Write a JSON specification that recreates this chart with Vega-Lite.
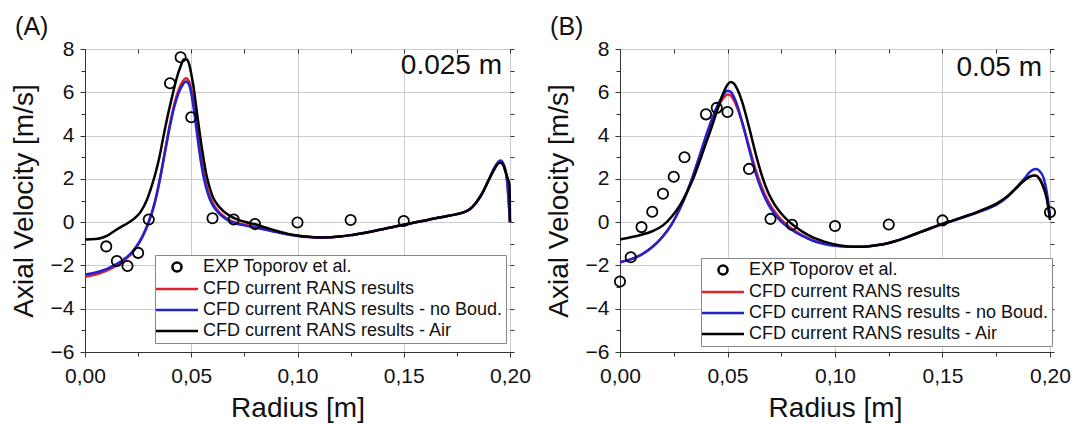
{
  "$schema": "https://vega.github.io/schema/vega-lite/v6.json",
  "padding": {"left": 9, "top": 14, "right": 0, "bottom": 0},
  "spacing": 13,
  "config": {
    "font": "Liberation Sans",
    "view": {"stroke": "#333333", "strokeWidth": 1},
    "axis": {
      "labelFont": "Liberation Sans", "labelFontSize": 21, "labelColor": "#111111", "labelFlush": false, "labelOverlap": false,
      "titleFont": "Liberation Sans", "titleFontSize": 28, "titleFontWeight": "normal", "titleColor": "#111111",
      "domainColor": "#333333", "tickColor": "#333333", "tickSize": 5,
      "gridColor": "#cccccc", "gridWidth": 1
    },
    "axisX": {"labelPadding": 8, "titlePadding": 8},
    "axisY": {"labelPadding": 6, "titlePadding": 12},
    "title": {"font": "Liberation Sans", "fontSize": 25, "fontWeight": "normal", "anchor": "start", "frame": "bounds", "offset": 1, "color": "#111111", "dx": 5, "dy": 3},
    "legend": {
      "title": null, "labelFont": "Liberation Sans", "labelFontSize": 18, "labelColor": "#111111",
      "strokeColor": "#888888", "fillColor": "#ffffff", "padding": 3, "rowPadding": 3,
      "symbolSize": 196, "symbolStrokeWidth": 2.5, "symbolOffset": 10, "labelOffset": 17,
      "labelLimit": 400
    }
  },
  "datasets": {
    "lineA": [
      {"r":0.000,"v":-2.52,"s":"CFD current RANS results"},{"r":0.005,"v":-2.42,"s":"CFD current RANS results"},{"r":0.010,"v":-2.25,"s":"CFD current RANS results"},{"r":0.015,"v":-2.00,"s":"CFD current RANS results"},{"r":0.018,"v":-1.80,"s":"CFD current RANS results"},{"r":0.021,"v":-1.55,"s":"CFD current RANS results"},{"r":0.024,"v":-1.20,"s":"CFD current RANS results"},{"r":0.027,"v":-0.70,"s":"CFD current RANS results"},{"r":0.030,"v":0.00,"s":"CFD current RANS results"},{"r":0.032,"v":0.60,"s":"CFD current RANS results"},{"r":0.034,"v":1.40,"s":"CFD current RANS results"},{"r":0.036,"v":2.40,"s":"CFD current RANS results"},{"r":0.038,"v":3.50,"s":"CFD current RANS results"},{"r":0.040,"v":4.55,"s":"CFD current RANS results"},{"r":0.042,"v":5.45,"s":"CFD current RANS results"},{"r":0.044,"v":6.10,"s":"CFD current RANS results"},{"r":0.046,"v":6.50,"s":"CFD current RANS results"},{"r":0.0475,"v":6.65,"s":"CFD current RANS results"},{"r":0.049,"v":6.50,"s":"CFD current RANS results"},{"r":0.050,"v":6.15,"s":"CFD current RANS results"},{"r":0.051,"v":5.60,"s":"CFD current RANS results"},{"r":0.0525,"v":4.55,"s":"CFD current RANS results"},{"r":0.054,"v":3.40,"s":"CFD current RANS results"},{"r":0.0555,"v":2.45,"s":"CFD current RANS results"},{"r":0.057,"v":1.75,"s":"CFD current RANS results"},{"r":0.0585,"v":1.25,"s":"CFD current RANS results"},{"r":0.060,"v":0.90,"s":"CFD current RANS results"},{"r":0.062,"v":0.60,"s":"CFD current RANS results"},{"r":0.065,"v":0.30,"s":"CFD current RANS results"},{"r":0.068,"v":0.10,"s":"CFD current RANS results"},{"r":0.071,"v":-0.02,"s":"CFD current RANS results"},{"r":0.075,"v":-0.12,"s":"CFD current RANS results"},{"r":0.080,"v":-0.22,"s":"CFD current RANS results"},{"r":0.085,"v":-0.33,"s":"CFD current RANS results"},{"r":0.090,"v":-0.45,"s":"CFD current RANS results"},{"r":0.095,"v":-0.55,"s":"CFD current RANS results"},{"r":0.100,"v":-0.63,"s":"CFD current RANS results"},{"r":0.105,"v":-0.68,"s":"CFD current RANS results"},{"r":0.110,"v":-0.71,"s":"CFD current RANS results"},{"r":0.115,"v":-0.70,"s":"CFD current RANS results"},{"r":0.120,"v":-0.66,"s":"CFD current RANS results"},{"r":0.125,"v":-0.60,"s":"CFD current RANS results"},{"r":0.130,"v":-0.52,"s":"CFD current RANS results"},{"r":0.135,"v":-0.43,"s":"CFD current RANS results"},{"r":0.140,"v":-0.33,"s":"CFD current RANS results"},{"r":0.145,"v":-0.22,"s":"CFD current RANS results"},{"r":0.150,"v":-0.12,"s":"CFD current RANS results"},{"r":0.155,"v":-0.02,"s":"CFD current RANS results"},{"r":0.160,"v":0.08,"s":"CFD current RANS results"},{"r":0.165,"v":0.18,"s":"CFD current RANS results"},{"r":0.170,"v":0.27,"s":"CFD current RANS results"},{"r":0.175,"v":0.37,"s":"CFD current RANS results"},{"r":0.178,"v":0.45,"s":"CFD current RANS results"},{"r":0.181,"v":0.60,"s":"CFD current RANS results"},{"r":0.184,"v":0.90,"s":"CFD current RANS results"},{"r":0.187,"v":1.35,"s":"CFD current RANS results"},{"r":0.190,"v":1.95,"s":"CFD current RANS results"},{"r":0.193,"v":2.55,"s":"CFD current RANS results"},{"r":0.1955,"v":2.80,"s":"CFD current RANS results"},{"r":0.197,"v":2.60,"s":"CFD current RANS results"},{"r":0.1985,"v":2.00,"s":"CFD current RANS results"},{"r":0.200,"v":0.00,"s":"CFD current RANS results"},

      {"r":0.000,"v":-2.42,"s":"CFD current RANS results - no Boud."},{"r":0.005,"v":-2.33,"s":"CFD current RANS results - no Boud."},{"r":0.010,"v":-2.17,"s":"CFD current RANS results - no Boud."},{"r":0.015,"v":-1.93,"s":"CFD current RANS results - no Boud."},{"r":0.018,"v":-1.74,"s":"CFD current RANS results - no Boud."},{"r":0.021,"v":-1.50,"s":"CFD current RANS results - no Boud."},{"r":0.024,"v":-1.15,"s":"CFD current RANS results - no Boud."},{"r":0.027,"v":-0.66,"s":"CFD current RANS results - no Boud."},{"r":0.030,"v":0.02,"s":"CFD current RANS results - no Boud."},{"r":0.032,"v":0.60,"s":"CFD current RANS results - no Boud."},{"r":0.034,"v":1.38,"s":"CFD current RANS results - no Boud."},{"r":0.036,"v":2.35,"s":"CFD current RANS results - no Boud."},{"r":0.038,"v":3.42,"s":"CFD current RANS results - no Boud."},{"r":0.040,"v":4.45,"s":"CFD current RANS results - no Boud."},{"r":0.042,"v":5.32,"s":"CFD current RANS results - no Boud."},{"r":0.044,"v":5.95,"s":"CFD current RANS results - no Boud."},{"r":0.046,"v":6.35,"s":"CFD current RANS results - no Boud."},{"r":0.0475,"v":6.50,"s":"CFD current RANS results - no Boud."},{"r":0.049,"v":6.35,"s":"CFD current RANS results - no Boud."},{"r":0.050,"v":5.95,"s":"CFD current RANS results - no Boud."},{"r":0.051,"v":5.35,"s":"CFD current RANS results - no Boud."},{"r":0.0525,"v":4.25,"s":"CFD current RANS results - no Boud."},{"r":0.054,"v":3.15,"s":"CFD current RANS results - no Boud."},{"r":0.0555,"v":2.25,"s":"CFD current RANS results - no Boud."},{"r":0.057,"v":1.60,"s":"CFD current RANS results - no Boud."},{"r":0.0585,"v":1.12,"s":"CFD current RANS results - no Boud."},{"r":0.060,"v":0.80,"s":"CFD current RANS results - no Boud."},{"r":0.062,"v":0.52,"s":"CFD current RANS results - no Boud."},{"r":0.065,"v":0.24,"s":"CFD current RANS results - no Boud."},{"r":0.068,"v":0.05,"s":"CFD current RANS results - no Boud."},{"r":0.071,"v":-0.06,"s":"CFD current RANS results - no Boud."},{"r":0.075,"v":-0.15,"s":"CFD current RANS results - no Boud."},{"r":0.080,"v":-0.24,"s":"CFD current RANS results - no Boud."},{"r":0.085,"v":-0.35,"s":"CFD current RANS results - no Boud."},{"r":0.090,"v":-0.46,"s":"CFD current RANS results - no Boud."},{"r":0.095,"v":-0.56,"s":"CFD current RANS results - no Boud."},{"r":0.100,"v":-0.64,"s":"CFD current RANS results - no Boud."},{"r":0.105,"v":-0.69,"s":"CFD current RANS results - no Boud."},{"r":0.110,"v":-0.71,"s":"CFD current RANS results - no Boud."},{"r":0.115,"v":-0.70,"s":"CFD current RANS results - no Boud."},{"r":0.120,"v":-0.66,"s":"CFD current RANS results - no Boud."},{"r":0.125,"v":-0.60,"s":"CFD current RANS results - no Boud."},{"r":0.130,"v":-0.52,"s":"CFD current RANS results - no Boud."},{"r":0.135,"v":-0.43,"s":"CFD current RANS results - no Boud."},{"r":0.140,"v":-0.33,"s":"CFD current RANS results - no Boud."},{"r":0.145,"v":-0.22,"s":"CFD current RANS results - no Boud."},{"r":0.150,"v":-0.12,"s":"CFD current RANS results - no Boud."},{"r":0.155,"v":-0.02,"s":"CFD current RANS results - no Boud."},{"r":0.160,"v":0.08,"s":"CFD current RANS results - no Boud."},{"r":0.165,"v":0.18,"s":"CFD current RANS results - no Boud."},{"r":0.170,"v":0.27,"s":"CFD current RANS results - no Boud."},{"r":0.175,"v":0.37,"s":"CFD current RANS results - no Boud."},{"r":0.178,"v":0.45,"s":"CFD current RANS results - no Boud."},{"r":0.181,"v":0.58,"s":"CFD current RANS results - no Boud."},{"r":0.184,"v":0.88,"s":"CFD current RANS results - no Boud."},{"r":0.187,"v":1.33,"s":"CFD current RANS results - no Boud."},{"r":0.190,"v":1.95,"s":"CFD current RANS results - no Boud."},{"r":0.193,"v":2.58,"s":"CFD current RANS results - no Boud."},{"r":0.1955,"v":2.85,"s":"CFD current RANS results - no Boud."},{"r":0.197,"v":2.68,"s":"CFD current RANS results - no Boud."},{"r":0.1985,"v":2.05,"s":"CFD current RANS results - no Boud."},{"r":0.200,"v":0.00,"s":"CFD current RANS results - no Boud."},

      {"r":0.000,"v":-0.80,"s":"CFD current RANS results - Air"},{"r":0.005,"v":-0.78,"s":"CFD current RANS results - Air"},{"r":0.008,"v":-0.72,"s":"CFD current RANS results - Air"},{"r":0.011,"v":-0.60,"s":"CFD current RANS results - Air"},{"r":0.014,"v":-0.40,"s":"CFD current RANS results - Air"},{"r":0.017,"v":-0.22,"s":"CFD current RANS results - Air"},{"r":0.020,"v":-0.05,"s":"CFD current RANS results - Air"},{"r":0.023,"v":0.15,"s":"CFD current RANS results - Air"},{"r":0.026,"v":0.45,"s":"CFD current RANS results - Air"},{"r":0.029,"v":1.00,"s":"CFD current RANS results - Air"},{"r":0.031,"v":1.55,"s":"CFD current RANS results - Air"},{"r":0.033,"v":2.20,"s":"CFD current RANS results - Air"},{"r":0.035,"v":3.00,"s":"CFD current RANS results - Air"},{"r":0.037,"v":4.00,"s":"CFD current RANS results - Air"},{"r":0.039,"v":4.95,"s":"CFD current RANS results - Air"},{"r":0.041,"v":5.80,"s":"CFD current RANS results - Air"},{"r":0.043,"v":6.60,"s":"CFD current RANS results - Air"},{"r":0.045,"v":7.20,"s":"CFD current RANS results - Air"},{"r":0.0465,"v":7.52,"s":"CFD current RANS results - Air"},{"r":0.048,"v":7.52,"s":"CFD current RANS results - Air"},{"r":0.049,"v":7.30,"s":"CFD current RANS results - Air"},{"r":0.050,"v":6.85,"s":"CFD current RANS results - Air"},{"r":0.051,"v":6.30,"s":"CFD current RANS results - Air"},{"r":0.0525,"v":5.20,"s":"CFD current RANS results - Air"},{"r":0.054,"v":4.10,"s":"CFD current RANS results - Air"},{"r":0.0555,"v":3.10,"s":"CFD current RANS results - Air"},{"r":0.057,"v":2.25,"s":"CFD current RANS results - Air"},{"r":0.0585,"v":1.65,"s":"CFD current RANS results - Air"},{"r":0.060,"v":1.20,"s":"CFD current RANS results - Air"},{"r":0.062,"v":0.85,"s":"CFD current RANS results - Air"},{"r":0.065,"v":0.52,"s":"CFD current RANS results - Air"},{"r":0.068,"v":0.30,"s":"CFD current RANS results - Air"},{"r":0.071,"v":0.15,"s":"CFD current RANS results - Air"},{"r":0.075,"v":0.02,"s":"CFD current RANS results - Air"},{"r":0.080,"v":-0.10,"s":"CFD current RANS results - Air"},{"r":0.085,"v":-0.25,"s":"CFD current RANS results - Air"},{"r":0.090,"v":-0.40,"s":"CFD current RANS results - Air"},{"r":0.095,"v":-0.53,"s":"CFD current RANS results - Air"},{"r":0.100,"v":-0.62,"s":"CFD current RANS results - Air"},{"r":0.105,"v":-0.68,"s":"CFD current RANS results - Air"},{"r":0.110,"v":-0.71,"s":"CFD current RANS results - Air"},{"r":0.115,"v":-0.70,"s":"CFD current RANS results - Air"},{"r":0.120,"v":-0.66,"s":"CFD current RANS results - Air"},{"r":0.125,"v":-0.60,"s":"CFD current RANS results - Air"},{"r":0.130,"v":-0.52,"s":"CFD current RANS results - Air"},{"r":0.135,"v":-0.43,"s":"CFD current RANS results - Air"},{"r":0.140,"v":-0.33,"s":"CFD current RANS results - Air"},{"r":0.145,"v":-0.22,"s":"CFD current RANS results - Air"},{"r":0.150,"v":-0.12,"s":"CFD current RANS results - Air"},{"r":0.155,"v":-0.02,"s":"CFD current RANS results - Air"},{"r":0.160,"v":0.08,"s":"CFD current RANS results - Air"},{"r":0.165,"v":0.18,"s":"CFD current RANS results - Air"},{"r":0.170,"v":0.27,"s":"CFD current RANS results - Air"},{"r":0.175,"v":0.37,"s":"CFD current RANS results - Air"},{"r":0.178,"v":0.45,"s":"CFD current RANS results - Air"},{"r":0.181,"v":0.60,"s":"CFD current RANS results - Air"},{"r":0.184,"v":0.90,"s":"CFD current RANS results - Air"},{"r":0.187,"v":1.35,"s":"CFD current RANS results - Air"},{"r":0.190,"v":1.95,"s":"CFD current RANS results - Air"},{"r":0.193,"v":2.50,"s":"CFD current RANS results - Air"},{"r":0.195,"v":2.75,"s":"CFD current RANS results - Air"},{"r":0.1965,"v":2.70,"s":"CFD current RANS results - Air"},{"r":0.198,"v":2.30,"s":"CFD current RANS results - Air"},{"r":0.199,"v":2.00,"s":"CFD current RANS results - Air"},{"r":0.1998,"v":1.70,"s":"CFD current RANS results - Air"},{"r":0.200,"v":0.00,"s":"CFD current RANS results - Air"}
    ],
    "expA": [
      {"r":0.010,"v":-1.12,"s":"EXP Toporov et al."},{"r":0.015,"v":-1.80,"s":"EXP Toporov et al."},{"r":0.020,"v":-2.03,"s":"EXP Toporov et al."},{"r":0.025,"v":-1.42,"s":"EXP Toporov et al."},{"r":0.030,"v":0.12,"s":"EXP Toporov et al."},{"r":0.040,"v":6.42,"s":"EXP Toporov et al."},{"r":0.045,"v":7.62,"s":"EXP Toporov et al."},{"r":0.050,"v":4.85,"s":"EXP Toporov et al."},{"r":0.060,"v":0.18,"s":"EXP Toporov et al."},{"r":0.070,"v":0.12,"s":"EXP Toporov et al."},{"r":0.080,"v":-0.09,"s":"EXP Toporov et al."},{"r":0.100,"v":-0.02,"s":"EXP Toporov et al."},{"r":0.125,"v":0.10,"s":"EXP Toporov et al."},{"r":0.150,"v":0.05,"s":"EXP Toporov et al."}
    ],
    "lineB": [
      {"r":0.000,"v":-1.85,"s":"CFD current RANS results"},{"r":0.005,"v":-1.72,"s":"CFD current RANS results"},{"r":0.010,"v":-1.50,"s":"CFD current RANS results"},{"r":0.015,"v":-1.15,"s":"CFD current RANS results"},{"r":0.020,"v":-0.65,"s":"CFD current RANS results"},{"r":0.024,"v":-0.10,"s":"CFD current RANS results"},{"r":0.028,"v":0.65,"s":"CFD current RANS results"},{"r":0.031,"v":1.35,"s":"CFD current RANS results"},{"r":0.034,"v":2.15,"s":"CFD current RANS results"},{"r":0.037,"v":3.05,"s":"CFD current RANS results"},{"r":0.040,"v":3.95,"s":"CFD current RANS results"},{"r":0.043,"v":4.75,"s":"CFD current RANS results"},{"r":0.046,"v":5.40,"s":"CFD current RANS results"},{"r":0.048,"v":5.72,"s":"CFD current RANS results"},{"r":0.050,"v":5.90,"s":"CFD current RANS results"},{"r":0.0515,"v":5.85,"s":"CFD current RANS results"},{"r":0.053,"v":5.62,"s":"CFD current RANS results"},{"r":0.055,"v":5.15,"s":"CFD current RANS results"},{"r":0.057,"v":4.55,"s":"CFD current RANS results"},{"r":0.060,"v":3.50,"s":"CFD current RANS results"},{"r":0.063,"v":2.45,"s":"CFD current RANS results"},{"r":0.066,"v":1.60,"s":"CFD current RANS results"},{"r":0.069,"v":0.95,"s":"CFD current RANS results"},{"r":0.072,"v":0.48,"s":"CFD current RANS results"},{"r":0.075,"v":0.12,"s":"CFD current RANS results"},{"r":0.078,"v":-0.15,"s":"CFD current RANS results"},{"r":0.081,"v":-0.38,"s":"CFD current RANS results"},{"r":0.085,"v":-0.62,"s":"CFD current RANS results"},{"r":0.090,"v":-0.85,"s":"CFD current RANS results"},{"r":0.095,"v":-1.00,"s":"CFD current RANS results"},{"r":0.100,"v":-1.08,"s":"CFD current RANS results"},{"r":0.105,"v":-1.12,"s":"CFD current RANS results"},{"r":0.110,"v":-1.14,"s":"CFD current RANS results"},{"r":0.115,"v":-1.12,"s":"CFD current RANS results"},{"r":0.120,"v":-1.06,"s":"CFD current RANS results"},{"r":0.125,"v":-0.96,"s":"CFD current RANS results"},{"r":0.130,"v":-0.82,"s":"CFD current RANS results"},{"r":0.135,"v":-0.64,"s":"CFD current RANS results"},{"r":0.140,"v":-0.45,"s":"CFD current RANS results"},{"r":0.145,"v":-0.26,"s":"CFD current RANS results"},{"r":0.150,"v":-0.08,"s":"CFD current RANS results"},{"r":0.155,"v":0.08,"s":"CFD current RANS results"},{"r":0.160,"v":0.25,"s":"CFD current RANS results"},{"r":0.165,"v":0.42,"s":"CFD current RANS results"},{"r":0.170,"v":0.62,"s":"CFD current RANS results"},{"r":0.175,"v":0.85,"s":"CFD current RANS results"},{"r":0.180,"v":1.18,"s":"CFD current RANS results"},{"r":0.184,"v":1.55,"s":"CFD current RANS results"},{"r":0.188,"v":1.92,"s":"CFD current RANS results"},{"r":0.191,"v":2.12,"s":"CFD current RANS results"},{"r":0.193,"v":2.15,"s":"CFD current RANS results"},{"r":0.195,"v":2.02,"s":"CFD current RANS results"},{"r":0.197,"v":1.60,"s":"CFD current RANS results"},{"r":0.1985,"v":1.10,"s":"CFD current RANS results"},{"r":0.200,"v":0.20,"s":"CFD current RANS results"},

      {"r":0.000,"v":-1.85,"s":"CFD current RANS results - no Boud."},{"r":0.005,"v":-1.72,"s":"CFD current RANS results - no Boud."},{"r":0.010,"v":-1.50,"s":"CFD current RANS results - no Boud."},{"r":0.015,"v":-1.15,"s":"CFD current RANS results - no Boud."},{"r":0.020,"v":-0.65,"s":"CFD current RANS results - no Boud."},{"r":0.024,"v":-0.10,"s":"CFD current RANS results - no Boud."},{"r":0.028,"v":0.65,"s":"CFD current RANS results - no Boud."},{"r":0.031,"v":1.35,"s":"CFD current RANS results - no Boud."},{"r":0.034,"v":2.15,"s":"CFD current RANS results - no Boud."},{"r":0.037,"v":3.05,"s":"CFD current RANS results - no Boud."},{"r":0.040,"v":3.98,"s":"CFD current RANS results - no Boud."},{"r":0.043,"v":4.82,"s":"CFD current RANS results - no Boud."},{"r":0.046,"v":5.52,"s":"CFD current RANS results - no Boud."},{"r":0.048,"v":5.88,"s":"CFD current RANS results - no Boud."},{"r":0.050,"v":6.07,"s":"CFD current RANS results - no Boud."},{"r":0.0515,"v":6.02,"s":"CFD current RANS results - no Boud."},{"r":0.053,"v":5.78,"s":"CFD current RANS results - no Boud."},{"r":0.055,"v":5.25,"s":"CFD current RANS results - no Boud."},{"r":0.057,"v":4.55,"s":"CFD current RANS results - no Boud."},{"r":0.060,"v":3.40,"s":"CFD current RANS results - no Boud."},{"r":0.063,"v":2.30,"s":"CFD current RANS results - no Boud."},{"r":0.066,"v":1.45,"s":"CFD current RANS results - no Boud."},{"r":0.069,"v":0.82,"s":"CFD current RANS results - no Boud."},{"r":0.072,"v":0.36,"s":"CFD current RANS results - no Boud."},{"r":0.075,"v":0.02,"s":"CFD current RANS results - no Boud."},{"r":0.078,"v":-0.23,"s":"CFD current RANS results - no Boud."},{"r":0.081,"v":-0.43,"s":"CFD current RANS results - no Boud."},{"r":0.085,"v":-0.65,"s":"CFD current RANS results - no Boud."},{"r":0.090,"v":-0.87,"s":"CFD current RANS results - no Boud."},{"r":0.095,"v":-1.01,"s":"CFD current RANS results - no Boud."},{"r":0.100,"v":-1.09,"s":"CFD current RANS results - no Boud."},{"r":0.105,"v":-1.13,"s":"CFD current RANS results - no Boud."},{"r":0.110,"v":-1.14,"s":"CFD current RANS results - no Boud."},{"r":0.115,"v":-1.12,"s":"CFD current RANS results - no Boud."},{"r":0.120,"v":-1.06,"s":"CFD current RANS results - no Boud."},{"r":0.125,"v":-0.96,"s":"CFD current RANS results - no Boud."},{"r":0.130,"v":-0.82,"s":"CFD current RANS results - no Boud."},{"r":0.135,"v":-0.64,"s":"CFD current RANS results - no Boud."},{"r":0.140,"v":-0.45,"s":"CFD current RANS results - no Boud."},{"r":0.145,"v":-0.27,"s":"CFD current RANS results - no Boud."},{"r":0.150,"v":-0.09,"s":"CFD current RANS results - no Boud."},{"r":0.155,"v":0.07,"s":"CFD current RANS results - no Boud."},{"r":0.160,"v":0.23,"s":"CFD current RANS results - no Boud."},{"r":0.165,"v":0.40,"s":"CFD current RANS results - no Boud."},{"r":0.170,"v":0.58,"s":"CFD current RANS results - no Boud."},{"r":0.175,"v":0.80,"s":"CFD current RANS results - no Boud."},{"r":0.180,"v":1.15,"s":"CFD current RANS results - no Boud."},{"r":0.184,"v":1.55,"s":"CFD current RANS results - no Boud."},{"r":0.188,"v":2.00,"s":"CFD current RANS results - no Boud."},{"r":0.191,"v":2.35,"s":"CFD current RANS results - no Boud."},{"r":0.1935,"v":2.45,"s":"CFD current RANS results - no Boud."},{"r":0.195,"v":2.38,"s":"CFD current RANS results - no Boud."},{"r":0.197,"v":2.05,"s":"CFD current RANS results - no Boud."},{"r":0.1985,"v":1.40,"s":"CFD current RANS results - no Boud."},{"r":0.200,"v":0.30,"s":"CFD current RANS results - no Boud."},

      {"r":0.000,"v":-0.80,"s":"CFD current RANS results - Air"},{"r":0.005,"v":-0.70,"s":"CFD current RANS results - Air"},{"r":0.010,"v":-0.58,"s":"CFD current RANS results - Air"},{"r":0.015,"v":-0.42,"s":"CFD current RANS results - Air"},{"r":0.020,"v":-0.15,"s":"CFD current RANS results - Air"},{"r":0.024,"v":0.25,"s":"CFD current RANS results - Air"},{"r":0.028,"v":0.80,"s":"CFD current RANS results - Air"},{"r":0.031,"v":1.35,"s":"CFD current RANS results - Air"},{"r":0.034,"v":2.00,"s":"CFD current RANS results - Air"},{"r":0.037,"v":2.80,"s":"CFD current RANS results - Air"},{"r":0.040,"v":3.65,"s":"CFD current RANS results - Air"},{"r":0.043,"v":4.50,"s":"CFD current RANS results - Air"},{"r":0.046,"v":5.40,"s":"CFD current RANS results - Air"},{"r":0.048,"v":5.95,"s":"CFD current RANS results - Air"},{"r":0.050,"v":6.35,"s":"CFD current RANS results - Air"},{"r":0.0515,"v":6.48,"s":"CFD current RANS results - Air"},{"r":0.053,"v":6.40,"s":"CFD current RANS results - Air"},{"r":0.055,"v":6.05,"s":"CFD current RANS results - Air"},{"r":0.057,"v":5.50,"s":"CFD current RANS results - Air"},{"r":0.060,"v":4.40,"s":"CFD current RANS results - Air"},{"r":0.063,"v":3.20,"s":"CFD current RANS results - Air"},{"r":0.066,"v":2.15,"s":"CFD current RANS results - Air"},{"r":0.069,"v":1.35,"s":"CFD current RANS results - Air"},{"r":0.072,"v":0.80,"s":"CFD current RANS results - Air"},{"r":0.075,"v":0.40,"s":"CFD current RANS results - Air"},{"r":0.078,"v":0.08,"s":"CFD current RANS results - Air"},{"r":0.081,"v":-0.17,"s":"CFD current RANS results - Air"},{"r":0.085,"v":-0.45,"s":"CFD current RANS results - Air"},{"r":0.090,"v":-0.72,"s":"CFD current RANS results - Air"},{"r":0.095,"v":-0.90,"s":"CFD current RANS results - Air"},{"r":0.100,"v":-1.03,"s":"CFD current RANS results - Air"},{"r":0.105,"v":-1.11,"s":"CFD current RANS results - Air"},{"r":0.110,"v":-1.14,"s":"CFD current RANS results - Air"},{"r":0.115,"v":-1.12,"s":"CFD current RANS results - Air"},{"r":0.120,"v":-1.06,"s":"CFD current RANS results - Air"},{"r":0.125,"v":-0.96,"s":"CFD current RANS results - Air"},{"r":0.130,"v":-0.82,"s":"CFD current RANS results - Air"},{"r":0.135,"v":-0.64,"s":"CFD current RANS results - Air"},{"r":0.140,"v":-0.45,"s":"CFD current RANS results - Air"},{"r":0.145,"v":-0.26,"s":"CFD current RANS results - Air"},{"r":0.150,"v":-0.08,"s":"CFD current RANS results - Air"},{"r":0.155,"v":0.08,"s":"CFD current RANS results - Air"},{"r":0.160,"v":0.25,"s":"CFD current RANS results - Air"},{"r":0.165,"v":0.42,"s":"CFD current RANS results - Air"},{"r":0.170,"v":0.62,"s":"CFD current RANS results - Air"},{"r":0.175,"v":0.85,"s":"CFD current RANS results - Air"},{"r":0.180,"v":1.18,"s":"CFD current RANS results - Air"},{"r":0.184,"v":1.55,"s":"CFD current RANS results - Air"},{"r":0.188,"v":1.92,"s":"CFD current RANS results - Air"},{"r":0.191,"v":2.12,"s":"CFD current RANS results - Air"},{"r":0.193,"v":2.15,"s":"CFD current RANS results - Air"},{"r":0.195,"v":2.02,"s":"CFD current RANS results - Air"},{"r":0.197,"v":1.60,"s":"CFD current RANS results - Air"},{"r":0.1985,"v":1.10,"s":"CFD current RANS results - Air"},{"r":0.200,"v":0.10,"s":"CFD current RANS results - Air"}
    ],
    "expB": [
      {"r":0.000,"v":-2.74,"s":"EXP Toporov et al."},{"r":0.005,"v":-1.62,"s":"EXP Toporov et al."},{"r":0.010,"v":-0.23,"s":"EXP Toporov et al."},{"r":0.015,"v":0.48,"s":"EXP Toporov et al."},{"r":0.020,"v":1.31,"s":"EXP Toporov et al."},{"r":0.025,"v":2.10,"s":"EXP Toporov et al."},{"r":0.030,"v":3.00,"s":"EXP Toporov et al."},{"r":0.040,"v":4.98,"s":"EXP Toporov et al."},{"r":0.045,"v":5.28,"s":"EXP Toporov et al."},{"r":0.050,"v":5.09,"s":"EXP Toporov et al."},{"r":0.060,"v":2.46,"s":"EXP Toporov et al."},{"r":0.070,"v":0.15,"s":"EXP Toporov et al."},{"r":0.080,"v":-0.12,"s":"EXP Toporov et al."},{"r":0.100,"v":-0.18,"s":"EXP Toporov et al."},{"r":0.125,"v":-0.11,"s":"EXP Toporov et al."},{"r":0.150,"v":0.08,"s":"EXP Toporov et al."},{"r":0.200,"v":0.46,"s":"EXP Toporov et al."}
    ]
  },
  "hconcat": [
    {
      "width": 425, "height": 303,
      "title": {"text": "(A)"},
      "resolve": {"axis": {"x": "independent", "y": "independent"}},
      "layer": [
        {
          "data": {"name": "lineA"},
          "mark": {"type": "line", "strokeWidth": 2.5, "interpolate": "monotone"},
          "encoding": {
            "x": {"field": "r", "type": "quantitative", "scale": {"domain": [0, 0.2], "nice": false},
                  "axis": {"orient": "bottom", "values": [0, 0.05, 0.1, 0.15, 0.2], "labelExpr": "replace(format(datum.value, '.2f'), '.', ',')", "title": "Radius [m]"}},
            "y": {"field": "v", "type": "quantitative", "scale": {"domain": [-6, 8], "nice": false},
                  "axis": {"orient": "left", "values": [-6, -4, -2, 0, 2, 4, 6, 8], "format": "d", "title": "Axial Velocity [m/s]"}},
            "color": {"field": "s", "type": "nominal",
              "scale": {"domain": ["EXP Toporov et al.", "CFD current RANS results", "CFD current RANS results - no Boud.", "CFD current RANS results - Air"], "range": ["#000000", "#e0202a", "#2222d0", "#000000"]},
              "legend": {"orient": "none", "legendX": 70, "legendY": 206}}
          }
        },
        {
          "data": {"name": "expA"},
          "mark": {"type": "point", "filled": false, "size": 250, "strokeWidth": 1.8, "opacity": 1},
          "encoding": {
            "x": {"field": "r", "type": "quantitative",
                  "axis": {"orient": "bottom", "values": [0.025, 0.075, 0.125, 0.175], "labels": false, "domain": false, "grid": false, "title": null, "tickSize": 4}},
            "y": {"field": "v", "type": "quantitative",
                  "axis": {"orient": "left", "values": [-5, -3, -1, 1, 3, 5, 7], "labels": false, "domain": false, "grid": false, "title": null, "tickSize": 4}},
            "color": {"field": "s", "type": "nominal",
              "scale": {"domain": ["EXP Toporov et al.", "CFD current RANS results", "CFD current RANS results - no Boud.", "CFD current RANS results - Air"], "range": ["#000000", "#e0202a", "#2222d0", "#000000"]},
              "legend": {"orient": "none", "legendX": 70, "legendY": 206}},
            "shape": {"field": "s", "type": "nominal",
              "scale": {"domain": ["EXP Toporov et al.", "CFD current RANS results", "CFD current RANS results - no Boud.", "CFD current RANS results - Air"], "range": ["M0.65,0A0.65,0.65 0 1,1 -0.65,0A0.65,0.65 0 1,1 0.65,0Z", "M-3,0H3", "M-3,0H3", "M-3,0H3"]},
              "legend": {"orient": "none", "legendX": 70, "legendY": 206}}
          }
        },
        {
          "data": {"values": [{"label": "0.025 m", "r": 0.2, "v": 8}]},
          "mark": {"type": "text", "align": "right", "baseline": "alphabetic", "fontSize": 28, "font": "Liberation Sans", "fill": "#111111", "dx": -8, "dy": 25},
          "encoding": {
            "x": {"field": "r", "type": "quantitative",
                  "axis": {"orient": "top", "values": [0, 0.025, 0.05, 0.075, 0.1, 0.125, 0.15, 0.175, 0.2], "labels": false, "domain": false, "grid": false, "title": null, "tickSize": -4}},
            "y": {"field": "v", "type": "quantitative",
                  "axis": {"orient": "right", "values": [-6, -5, -4, -3, -2, -1, 0, 1, 2, 3, 4, 5, 6, 7, 8], "labels": false, "domain": false, "grid": false, "title": null, "tickSize": 4}},
            "text": {"field": "label"}
          }
        }
      ]
    },
    {
      "width": 430, "height": 303,
      "title": {"text": "(B)"},
      "resolve": {"axis": {"x": "independent", "y": "independent"}},
      "layer": [
        {
          "data": {"name": "lineB"},
          "mark": {"type": "line", "strokeWidth": 2.5, "interpolate": "monotone"},
          "encoding": {
            "x": {"field": "r", "type": "quantitative", "scale": {"domain": [0, 0.2], "nice": false},
                  "axis": {"orient": "bottom", "values": [0, 0.05, 0.1, 0.15, 0.2], "labelExpr": "replace(format(datum.value, '.2f'), '.', ',')", "title": "Radius [m]"}},
            "y": {"field": "v", "type": "quantitative", "scale": {"domain": [-6, 8], "nice": false},
                  "axis": {"orient": "left", "values": [-6, -4, -2, 0, 2, 4, 6, 8], "format": "d", "title": "Axial Velocity [m/s]"}},
            "color": {"field": "s", "type": "nominal",
              "scale": {"domain": ["EXP Toporov et al.", "CFD current RANS results", "CFD current RANS results - no Boud.", "CFD current RANS results - Air"], "range": ["#000000", "#e0202a", "#2222d0", "#000000"]},
              "legend": {"orient": "none", "legendX": 81, "legendY": 209}}
          }
        },
        {
          "data": {"name": "expB"},
          "mark": {"type": "point", "filled": false, "size": 250, "strokeWidth": 1.8, "opacity": 1},
          "encoding": {
            "x": {"field": "r", "type": "quantitative",
                  "axis": {"orient": "bottom", "values": [0.025, 0.075, 0.125, 0.175], "labels": false, "domain": false, "grid": false, "title": null, "tickSize": 4}},
            "y": {"field": "v", "type": "quantitative",
                  "axis": {"orient": "left", "values": [-5, -3, -1, 1, 3, 5, 7], "labels": false, "domain": false, "grid": false, "title": null, "tickSize": 4}},
            "color": {"field": "s", "type": "nominal",
              "scale": {"domain": ["EXP Toporov et al.", "CFD current RANS results", "CFD current RANS results - no Boud.", "CFD current RANS results - Air"], "range": ["#000000", "#e0202a", "#2222d0", "#000000"]},
              "legend": {"orient": "none", "legendX": 81, "legendY": 209}},
            "shape": {"field": "s", "type": "nominal",
              "scale": {"domain": ["EXP Toporov et al.", "CFD current RANS results", "CFD current RANS results - no Boud.", "CFD current RANS results - Air"], "range": ["M0.65,0A0.65,0.65 0 1,1 -0.65,0A0.65,0.65 0 1,1 0.65,0Z", "M-3,0H3", "M-3,0H3", "M-3,0H3"]},
              "legend": {"orient": "none", "legendX": 81, "legendY": 209}}
          }
        },
        {
          "data": {"values": [{"label": "0.05 m", "r": 0.2, "v": 8}]},
          "mark": {"type": "text", "align": "right", "baseline": "alphabetic", "fontSize": 28, "font": "Liberation Sans", "fill": "#111111", "dx": -8, "dy": 27},
          "encoding": {
            "x": {"field": "r", "type": "quantitative",
                  "axis": {"orient": "top", "values": [0, 0.025, 0.05, 0.075, 0.1, 0.125, 0.15, 0.175, 0.2], "labels": false, "domain": false, "grid": false, "title": null, "tickSize": -4}},
            "y": {"field": "v", "type": "quantitative",
                  "axis": {"orient": "right", "values": [-6, -5, -4, -3, -2, -1, 0, 1, 2, 3, 4, 5, 6, 7, 8], "labels": false, "domain": false, "grid": false, "title": null, "tickSize": 4}},
            "text": {"field": "label"}
          }
        }
      ]
    }
  ],
  "resolve": {"scale": {"color": "independent", "shape": "independent"}, "legend": {"color": "independent", "shape": "independent"}}
}
